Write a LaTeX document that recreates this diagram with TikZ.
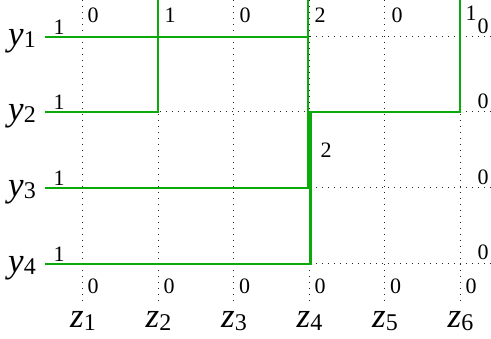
\documentclass[tikz,border=0pt]{standalone}
\usepackage{fontspec}
\setmainfont{Liberation Serif}
\definecolor{flowgreen}{RGB}{10,170,10}
\newcommand{\axl}[2]{{\fontsize{35}{35}\selectfont\itshape #1}\raisebox{-0.25em}{\fontsize{24}{24}\selectfont #2}}
\begin{document}
\begin{tikzpicture}[x=1pt,y=-1pt,
  flow/.style={draw=flowgreen, line width=2.8pt},
  gridline/.style={draw=black!85, line width=1pt, dash pattern=on 1pt off 5pt},
  num/.style={font=\fontsize{22}{22}\selectfont, inner sep=0pt},
  axlab/.style={inner sep=0pt}]
\useasboundingbox (0,0) rectangle (491,339);
% grid coordinates
\foreach \x/\n in {82/1,158/2,233.5/3,309/4,384.5/5,460/6}{
  \coordinate (zt\n) at (\x,0);
  \coordinate (zb\n) at (\x,302);
}
\foreach \y/\n in {37/1,112/2,188/3,264/4}{
  \coordinate (yl\n) at (82,\y);
  \coordinate (yr\n) at (491,\y);
  \coordinate (s\n) at (45,\y);
}
% dotted grid
\foreach \n in {1,...,6}{ \draw[gridline] (zt\n) -- (zb\n); }
\foreach \n in {1,...,4}{ \draw[gridline] (yl\n) -- (yr\n); }
% flow path corners
\coordinate (a1) at (308,37);  \coordinate (a2) at (308,0);
\coordinate (b1) at (158,112); \coordinate (b2) at (158,0);
\coordinate (c1) at (308,188); \coordinate (c2) at (308,0);
\coordinate (d1) at (310.5,264); \coordinate (d2) at (310.5,112);
\coordinate (d3) at (460,112); \coordinate (d4) at (460,0);
% flows
\draw[flow] (s1) -- (a1) -- (a2);
\draw[flow] (s2) -- (b1) -- (b2);
\draw[flow] (s3) -- (c1) -- (c2);
\draw[flow] (s4) -- (d1) -- (d2) -- (d3) -- (d4);
% row labels
\node[axlab] (ly1) at (22,41) {\axl{y}{1}};
\node[axlab] (ly2) at (22,116) {\axl{y}{2}};
\node[axlab] (ly3) at (22,192) {\axl{y}{3}};
\node[axlab] (ly4) at (22,268) {\axl{y}{4}};
% column labels
\node[axlab] (lz1) at (83,321) {\axl{z}{1}};
\node[axlab] (lz2) at (158.5,321) {\axl{z}{2}};
\node[axlab] (lz3) at (234,321) {\axl{z}{3}};
\node[axlab] (lz4) at (309.5,321) {\axl{z}{4}};
\node[axlab] (lz5) at (385,321) {\axl{z}{5}};
\node[axlab] (lz6) at (460.5,321) {\axl{z}{6}};
% left numbers
\node[num] (n1) at (59,27) {1};
\node[num] (n2) at (59,102) {1};
\node[num] (n3) at (59,178) {1};
\node[num] (n4) at (59,254) {1};
% top numbers
\node[num] (t1) at (93,15) {0};
\node[num] (t2) at (170,15) {1};
\node[num] (t3) at (245,15) {0};
\node[num] (t4) at (320,15) {2};
\node[num] (t5) at (397,15) {0};
\node[num] (t6) at (471,13) {1};
% right numbers
\node[num] (r1) at (483,26) {0};
\node[num] (r2) at (483,101) {0};
\node[num] (r3) at (483,177) {0};
\node[num] (r4) at (483,252) {0};
% middle number
\node[num] (m1) at (326,150) {2};
% bottom numbers
\node[num] (b1n) at (93,286) {0};
\node[num] (b2n) at (169,286) {0};
\node[num] (b3n) at (244.5,286) {0};
\node[num] (b4n) at (320,286) {0};
\node[num] (b5n) at (395.5,286) {0};
\node[num] (b6n) at (471,286) {0};
\end{tikzpicture}
\end{document}
